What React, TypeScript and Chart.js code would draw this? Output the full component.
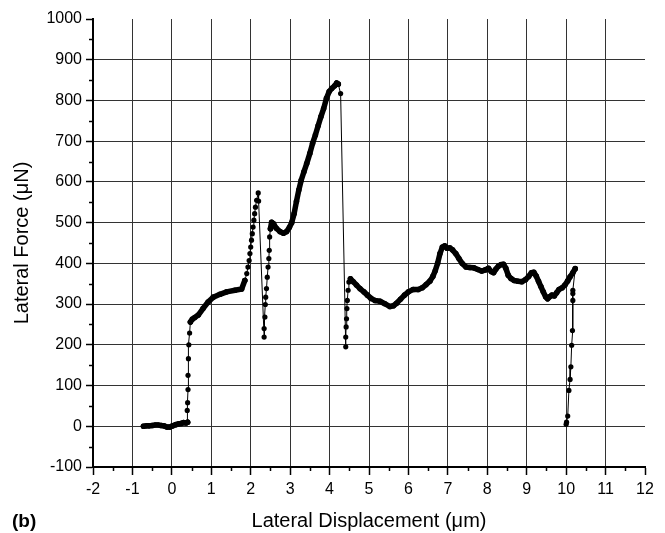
import React, { useEffect, useRef } from 'react';
import { Chart, registerables } from 'chart.js';

Chart.register(...registerables);

// ---- axis ticks ----
const xTickValues = [-2, -1, 0, 1, 2, 3, 4, 5, 6, 7, 8, 9, 10, 11, 12];
const yTickValues = [-100, 0, 100, 200, 300, 400, 500, 600, 700, 800, 900, 1000];

// ---- data (Lateral Displacement µm, Lateral Force µN) ----
const approachX = [-0.72, -0.65, -0.58, -0.5, -0.42, -0.35, -0.27, -0.2, -0.12, -0.05, 0.02, 0.1, 0.17, 0.24, 0.3, 0.36, 0.4];
const approachY = [0, 1, 1, 2, 3, 3, 2, 1, -2, -2, 1, 4, 6, 7, 9, 8, 10];

const rise1X = [0.4, 0.39, 0.4, 0.41, 0.41, 0.42, 0.43, 0.45, 0.47];
const rise1Y = [10, 39, 58, 90, 125, 166, 200, 229, 256];

const climb1X = [0.47, 0.52, 0.58, 0.67, 0.79, 0.92, 1.05, 1.22, 1.39, 1.6, 1.77, 1.85];
const climb1Y = [256, 263, 267, 273, 289, 305, 317, 324, 330, 334, 337, 358];

const drop1X = [1.85, 1.9, 1.93, 1.96, 1.98, 2.0, 2.02, 2.04, 2.06, 2.08, 2.1, 2.12, 2.15, 2.19, 2.2, 2.34, 2.34, 2.36, 2.37, 2.38, 2.4, 2.42, 2.44, 2.46, 2.47, 2.48, 2.5];
const drop1Y = [358, 375, 391, 407, 424, 440, 457, 473, 489, 506, 522, 538, 555, 573, 553, 219, 240, 268, 299, 317, 338, 366, 391, 412, 432, 465, 485];

const climb2X = [2.5, 2.53, 2.58, 2.65, 2.74, 2.83, 2.91, 2.98, 3.04, 3.1, 3.16, 3.22, 3.28, 3.35, 3.42, 3.5, 3.57, 3.64, 3.71, 3.78, 3.85, 3.92, 3.99, 4.06, 4.13, 4.18, 4.22];
const climb2Y = [485, 501, 497, 486, 478, 474, 478, 488, 500, 522, 552, 580, 604, 625, 645, 670, 695, 715, 738, 760, 780, 805, 822, 830, 836, 843, 840];

const drop2X = [4.22, 4.28, 4.41, 4.41, 4.42, 4.43, 4.44, 4.45, 4.47, 4.49, 4.53];
const drop2Y = [840, 817, 195, 219, 244, 264, 289, 309, 334, 354, 362];

const slideX = [4.53, 4.6, 4.68, 4.77, 4.87, 4.96, 5.05, 5.15, 5.28, 5.4, 5.53, 5.62, 5.7, 5.8, 5.9, 6.0, 6.12, 6.25, 6.35, 6.45, 6.55, 6.62, 6.68, 6.74, 6.8, 6.86, 6.92, 6.98, 7.05, 7.12, 7.2, 7.28, 7.36, 7.46, 7.56, 7.66, 7.76, 7.86, 7.95, 8.03, 8.1, 8.16, 8.22, 8.28, 8.35, 8.41, 8.47, 8.53, 8.6, 8.68, 8.78, 8.88, 8.97, 9.05, 9.12, 9.18, 9.24, 9.3, 9.36, 9.42, 9.48, 9.53, 9.58, 9.64, 9.7, 9.76, 9.82, 9.9, 9.97, 10.04, 10.1, 10.17, 10.23];
const slideY = [362, 355, 347, 338, 330, 322, 314, 309, 307, 301, 294, 296, 302, 312, 322, 330, 336, 336, 340, 348, 357, 368, 382, 400, 424, 440, 443, 437, 438, 433, 424, 412, 400, 391, 390, 389, 385, 381, 384, 388, 380, 377, 386, 393, 397, 398, 388, 371, 363, 358, 356, 355, 360, 368, 377, 378, 369, 356, 343, 330, 318, 313, 318, 322, 320, 328, 336, 340, 347, 357, 367, 377, 387];

const unloadX = [10.23, 10.17, 10.17, 10.17, 10.16, 10.14, 10.12, 10.1, 10.07, 10.04, 10.01, 10.0];
const unloadY = [387, 334, 326, 309, 235, 199, 146, 115, 88, 25, 10, 5];

const FONT = "'Liberation Sans', Arial, Helvetica, sans-serif";

const toPoints = (xs: number[], ys: number[]) => xs.map((x, i) => ({ x, y: ys[i] }));

const thick = (xs: number[], ys: number[]) => ({
  data: toPoints(xs, ys),
  showLine: true,
  borderColor: '#000',
  backgroundColor: '#000',
  borderWidth: 5.5,
  borderJoinStyle: 'round',
  borderCapStyle: 'round',
  pointRadius: 2.8,
  pointBorderWidth: 0,
  pointBackgroundColor: '#000',
});

const thin = (xs: number[], ys: number[]) => ({
  data: toPoints(xs, ys),
  showLine: true,
  borderColor: '#000',
  backgroundColor: '#000',
  borderWidth: 1,
  pointRadius: 2.6,
  pointBorderWidth: 0,
  pointBackgroundColor: '#000',
});

const minorTicks = {
  id: 'minorTicks',
  afterDraw(chart: any) {
    const { ctx, chartArea } = chart;
    const xs = chart.scales.x;
    const ys = chart.scales.y;
    ctx.save();
    ctx.strokeStyle = '#000';
    ctx.lineWidth = 1.5;
    for (let i = 0; i < xTickValues.length - 1; i++) {
      const p = Math.round(xs.getPixelForValue((xTickValues[i] + xTickValues[i + 1]) / 2)) + 0.5;
      ctx.beginPath();
      ctx.moveTo(p, chartArea.bottom);
      ctx.lineTo(p, chartArea.bottom + 4);
      ctx.stroke();
    }
    for (let i = 0; i < yTickValues.length - 1; i++) {
      const p = Math.round(ys.getPixelForValue((yTickValues[i] + yTickValues[i + 1]) / 2)) + 0.5;
      ctx.beginPath();
      ctx.moveTo(chartArea.left, p);
      ctx.lineTo(chartArea.left - 4, p);
      ctx.stroke();
    }
    ctx.restore();
  },
};

export default function App() {
  const ref = useRef<HTMLCanvasElement>(null);
  useEffect(() => {
    if (!ref.current) return;
    const chart = new Chart(ref.current, {
      type: 'scatter',
      data: {
        datasets: [
          thick(approachX, approachY),
          thin(rise1X, rise1Y),
          thick(climb1X, climb1Y),
          thin(drop1X, drop1Y),
          thick(climb2X, climb2Y),
          thin(drop2X, drop2Y),
          thick(slideX, slideY),
          thin(unloadX, unloadY),
        ] as any,
      },
      options: {
        animation: false,
        responsive: false,
        layout: { padding: { top: 19, right: 20, left: 0, bottom: 0 } },
        plugins: { legend: { display: false }, tooltip: { enabled: false } },
        scales: {
          x: {
            type: 'linear',
            min: -2,
            max: 12,
            afterBuildTicks: (s: any) => {
              s.ticks = xTickValues.map((v) => ({ value: v }));
            },
            afterFit: (s: any) => {
              s.height = 66;
            },
            border: { display: true, color: '#000', width: 2 },
            grid: {
              color: (c: any) => (c.tick && (c.tick.value === -2 || c.tick.value === 12) ? 'rgba(0,0,0,0)' : '#333'),
              lineWidth: 1,
              drawTicks: true,
              tickLength: 8,
              tickColor: '#000',
              tickWidth: 1.5,
            },
            ticks: {
              color: '#000',
              font: { family: FONT, size: 16 },
              padding: 5,
              maxRotation: 0,
              autoSkip: false,
              callback: (v: any) => String(v),
            },
            title: {
              display: true,
              text: 'Lateral Displacement (μm)',
              color: '#000',
              font: { family: FONT, size: 20 },
              padding: { top: 0, bottom: 0 },
            },
          },
          y: {
            type: 'linear',
            min: -100,
            max: 1000,
            afterBuildTicks: (s: any) => {
              s.ticks = yTickValues.map((v) => ({ value: v }));
            },
            afterFit: (s: any) => {
              s.width = 93;
            },
            border: { display: true, color: '#000', width: 2 },
            grid: {
              color: (c: any) => (c.tick && (c.tick.value === -100 || c.tick.value === 1000) ? 'rgba(0,0,0,0)' : '#333'),
              lineWidth: 1,
              drawTicks: true,
              tickLength: 7,
              tickColor: '#000',
              tickWidth: 1.5,
            },
            ticks: {
              color: '#000',
              font: { family: FONT, size: 16 },
              padding: 4,
              autoSkip: false,
              callback: (v: any) => String(v),
            },
            title: {
              display: true,
              text: 'Lateral Force (μN)',
              color: '#000',
              font: { family: FONT, size: 20 },
              padding: { top: 10, bottom: 0 },
            },
          },
        },
      } as any,
      plugins: [minorTicks],
    });
    return () => chart.destroy();
  }, []);

  return (
    <div style={{ position: 'fixed', left: 0, top: 0, width: 665, height: 533, background: '#fff' }}>
      <canvas ref={ref} width={665} height={533} style={{ display: 'block' }} />
      <div
        style={{
          position: 'absolute',
          left: 12,
          top: 510,
          fontFamily: FONT,
          fontWeight: 'bold',
          fontSize: 19,
          color: '#000',
          lineHeight: '22px',
        }}
      >
        (b)
      </div>
    </div>
  );
}
